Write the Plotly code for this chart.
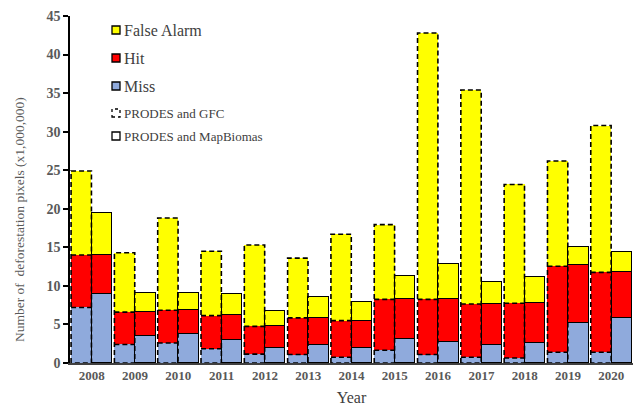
import plotly.graph_objects as go

years = [2008, 2009, 2010, 2011, 2012, 2013, 2014, 2015, 2016, 2017, 2018, 2019, 2020]

# PRODES and GFC (values in millions of pixels)
gfc_miss = [7.2, 2.4, 2.6, 1.85, 1.15, 1.1, 0.75, 1.65, 1.1, 0.75, 0.65, 1.4, 1.4]
gfc_hit = [6.8, 4.2, 4.25, 4.3, 3.6, 4.75, 4.75, 6.6, 7.15, 6.9, 7.1, 11.15, 10.35]
gfc_false = [10.9, 7.7, 11.95, 8.35, 10.55, 7.75, 11.2, 9.7, 34.55, 27.75, 15.4, 13.65, 19.05]

# PRODES and MapBiomas
mb_miss = [8.95, 3.45, 3.75, 2.95, 1.95, 2.35, 1.95, 3.15, 2.75, 2.35, 2.65, 5.2, 5.8]
mb_hit = [5.05, 3.2, 3.1, 3.3, 2.8, 3.5, 3.55, 5.1, 5.55, 5.3, 5.1, 7.45, 5.95]
mb_false = [5.5, 2.4, 2.2, 2.7, 2.0, 2.7, 2.35, 3.0, 4.6, 2.8, 3.45, 2.4, 2.7]

series_names = ["Miss", "Hit", "False Alarm"]
colors = {"Miss": "#8FAADC", "Hit": "#FF0000", "False Alarm": "#FFFF00"}

SERIF = "Liberation Serif, Times New Roman, serif"

OFF = 0.24
W = 0.47
x_gfc = [y - OFF for y in years]
x_mb = [y + OFF for y in years]

fig = go.Figure()

gfc = {"Miss": gfc_miss, "Hit": gfc_hit, "False Alarm": gfc_false}
mb = {"Miss": mb_miss, "Hit": mb_hit, "False Alarm": mb_false}

for name in series_names:
    fig.add_trace(go.Bar(x=x_gfc, y=gfc[name], width=W, name=name,
                         marker=dict(color=colors[name], line=dict(width=0)),
                         showlegend=False))
for name in series_names:
    fig.add_trace(go.Bar(x=x_mb, y=mb[name], width=W, name=name,
                         marker=dict(color=colors[name], line=dict(width=1.5, color="black")),
                         showlegend=False))

# dashed outlines for GFC bars, built from data
ox, oy = [], []
for i, xc in enumerate(x_gfc):
    x0, x1 = xc - W / 2, xc + W / 2
    b1 = gfc_miss[i]
    b2 = b1 + gfc_hit[i]
    top = b2 + gfc_false[i]
    ox += [x0, x0, x1, x1, x0, None]
    oy += [0, top, top, 0, 0, None]
    for b in (b1, b2):
        ox += [x0, x1, None]
        oy += [b, b, None]
fig.add_trace(go.Scatter(x=ox, y=oy, mode="lines", hoverinfo="skip", showlegend=False,
                         line=dict(color="black", width=1.6, dash="5px,3px")))

# manual legend
legend_items = [
    ("False Alarm", colors["False Alarm"], "solid", 16, 30),
    ("Hit", colors["Hit"], "solid", 16, 58),
    ("Miss", colors["Miss"], "solid", 16, 86),
    ("PRODES and GFC", "white", "dot", 13, 113),
    ("PRODES and MapBiomas", "white", "solid", 13, 136),
]
H = 411
shapes = []
annotations = []
for text, fill, dash, fs, ypx in legend_items:
    shapes.append(dict(type="rect", xref="paper", yref="paper",
                       x0=(112 - 70) / 563, x1=(120 - 70) / 563,
                       y0=(H - 48 - (ypx + 4)) / 347, y1=(H - 48 - (ypx - 4)) / 347,
                       fillcolor=fill, line=dict(color="black", width=1.3, dash=dash)))
    annotations.append(dict(text=text, xref="paper", yref="paper",
                            x=(122 - 70) / 563, y=(H - 48 - ypx) / 347,
                            xanchor="left", yanchor="middle", showarrow=False,
                            font=dict(family=SERIF, size=fs, color="#404040")))

annotations.append(dict(text="Number of  deforestation pixels (x1,000,000)", textangle=-90,
                        xref="paper", yref="paper", x=-(70 - 19) / 563, y=(363 - 220) / 347,
                        xanchor="center", yanchor="middle", showarrow=False,
                        font=dict(family=SERIF, size=13.5, color="#595959")))

fig.update_layout(
    width=633, height=411,
    barmode="stack",
    bargap=0,
    plot_bgcolor="white", paper_bgcolor="white",
    margin=dict(l=70, r=0, t=16, b=48),
    shapes=shapes,
    annotations=annotations,
    showlegend=False,
    font=dict(family=SERIF),
)
fig.update_xaxes(range=[2007.5, 2020.5], tickvals=years, ticktext=[str(y) for y in years],
                 showline=True, linecolor="#404040", linewidth=1.5, ticks="",
                 showgrid=False, zeroline=False,
                 tickfont=dict(family=SERIF, size=13, color="#595959", weight="bold"),
                 title=dict(text="Year", standoff=9,
                            font=dict(family=SERIF, size=16, color="#404040")))
fig.update_yaxes(range=[0, 45], dtick=5, showline=True, linecolor="black", linewidth=1.5,
                 ticks="outside", ticklen=5, tickwidth=1.5, tickcolor="black",
                 showgrid=False, zeroline=False,
                 tickfont=dict(family=SERIF, size=14, color="#595959", weight="bold"))

fig.write_html("out.html", config={"displayModeBar": False},
               post_script="document.body.style.margin='0px';document.body.style.overflow='hidden';")
